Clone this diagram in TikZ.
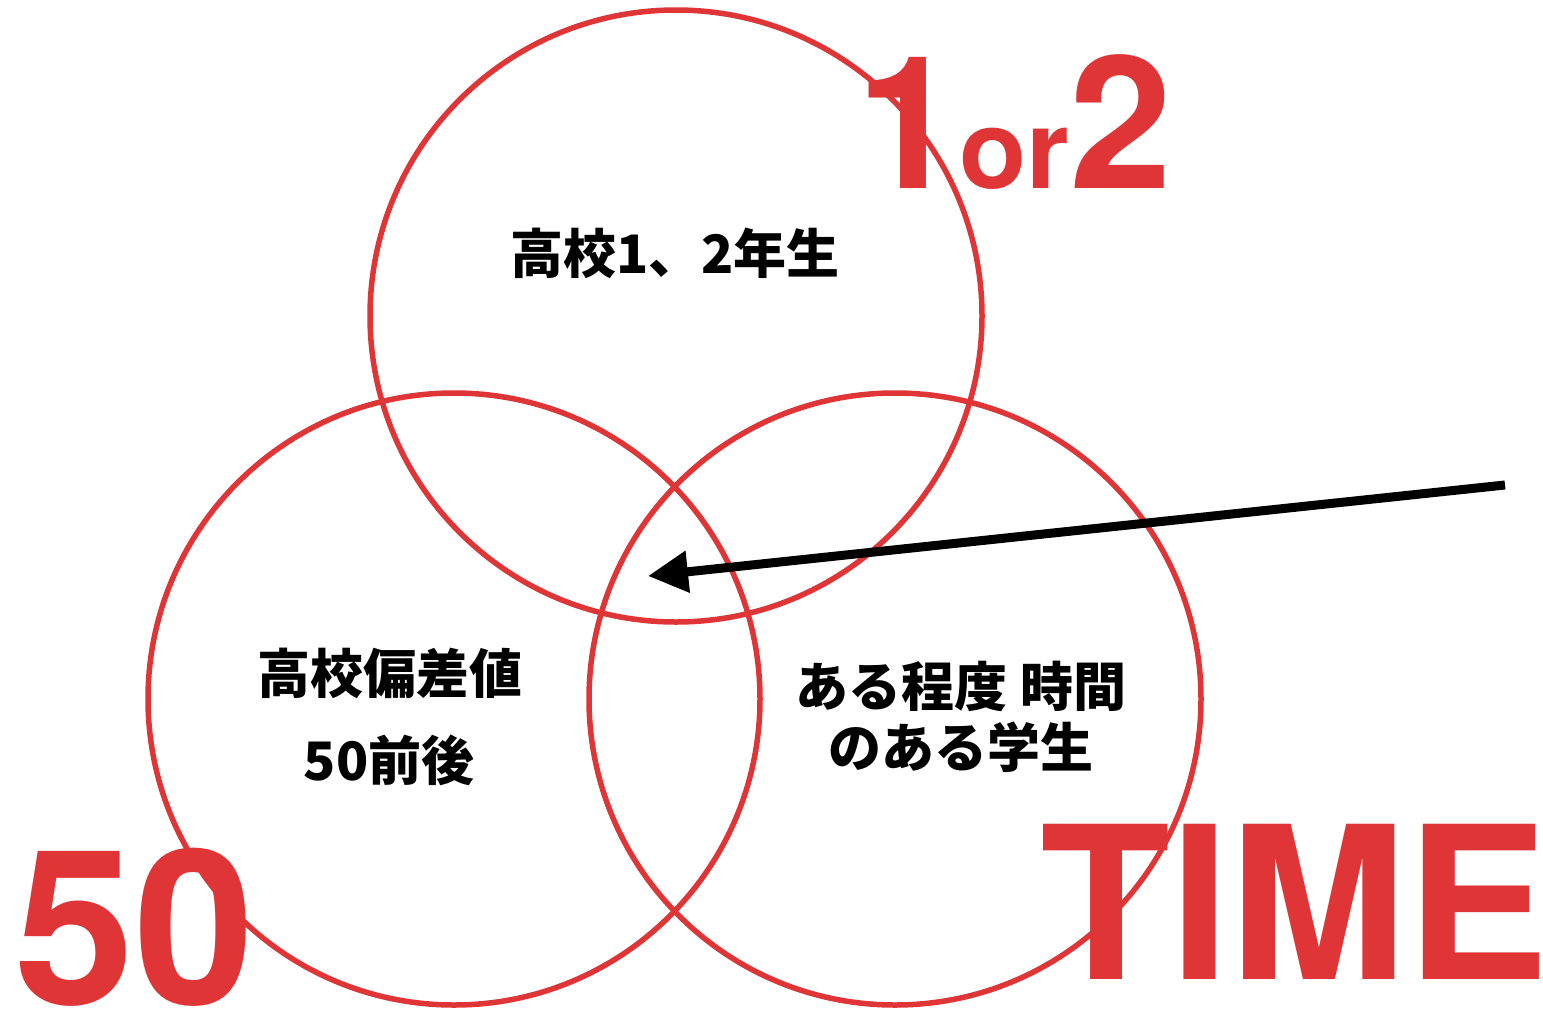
\documentclass[tikz,border=0pt]{standalone}
\usepackage{fontspec}
\setmainfont{TeX Gyre Heros}
\newfontfamily\jp{Noto Sans CJK JP}
\usetikzlibrary{arrows.meta}
\definecolor{vred}{HTML}{E03537}
\tikzset{
  ring/.style={draw=vred, line width=5.5pt},
  bigred/.style={text=vred, font=\bfseries, inner sep=0pt, anchor=base west},
  label/.style={font=\jp\bfseries\fontsize{53}{60}\selectfont, align=center, inner sep=0pt},
  pointer/.style={draw=black, line width=9pt, -{Triangle[length=40pt,width=40pt]}}
}
\begin{document}
\begin{tikzpicture}[x=1pt,y=-1pt]
\useasboundingbox (0,0) rectangle (1543,1010);
% big red words
\node[bigred] (oneortwo) at (856,188) {\fontsize{185}{185}\selectfont 1\fontsize{110}{110}\selectfont or\fontsize{185}{185}\selectfont 2};
\node[bigred] (fifty) at (14,1004) {\fontsize{216}{216}\selectfont 50};
\node[bigred] (time) at (1040,979) {\fontsize{213}{213}\selectfont TIME};
% circles
\coordinate (ctop) at (676,316);
\coordinate (cleft) at (454,699);
\coordinate (cright) at (895,699);
\foreach \c in {ctop,cleft,cright} \draw[ring] (\c) circle (306);
\node[circle, minimum size=612pt, inner sep=0pt] (topcircle) at (ctop) {};
\node[circle, minimum size=612pt, inner sep=0pt] (leftcircle) at (cleft) {};
\node[circle, minimum size=612pt, inner sep=0pt] (rightcircle) at (cright) {};
% labels
\node[label] (grade) at (675,253) {高校1、2年生};
\node[label] (dev) at (390,673) {高校偏差値};
\node[label] (dev2) at (389,760) {50前後};
\node[label] (timea) at (961,686) {ある程度 時間};
\node[label] (timeb) at (961,747) {のある学生};
% arrow
\coordinate (arrstart) at (1505,485);
\coordinate (arrtip) at (648,576);
\draw[pointer] (arrstart) -- (arrtip);
\end{tikzpicture}
\end{document}
